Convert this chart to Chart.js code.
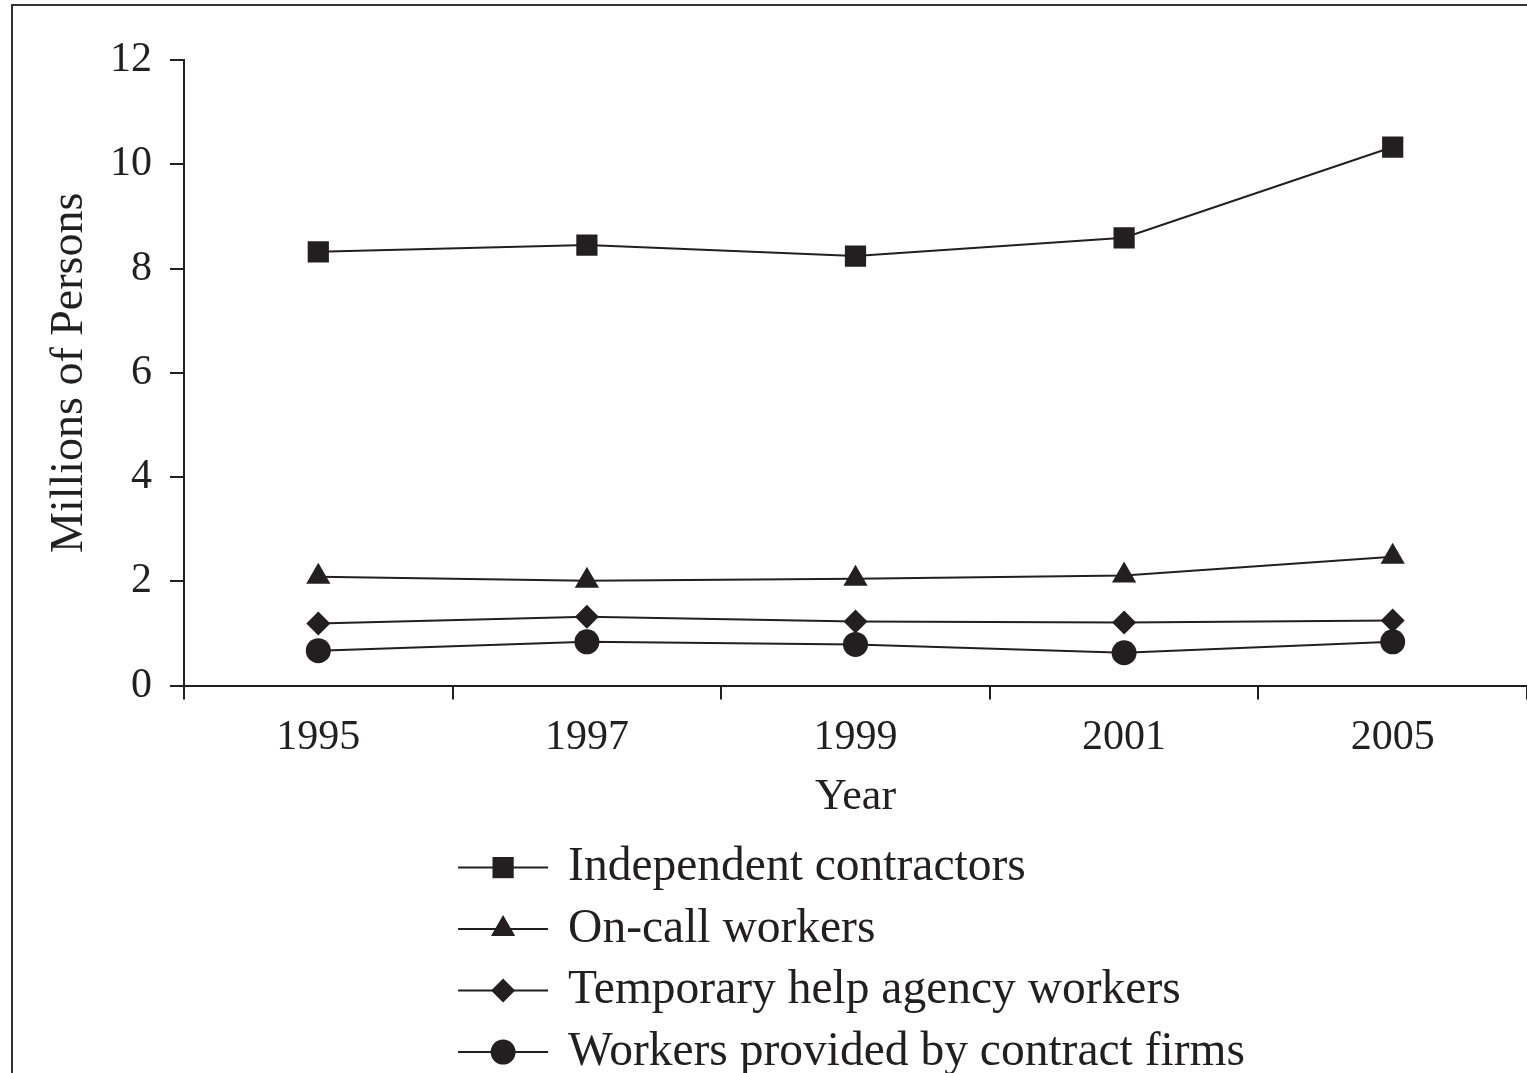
<!DOCTYPE html>
<html>
<head>
<meta charset="utf-8">
<script src="https://cdn.jsdelivr.net/npm/chart.js@4/dist/chart.umd.min.js"></script>
<style>
  html, body { margin: 0; padding: 0; background: #fff; }
  #wrap { position: relative; width: 1527px; height: 1073px; overflow: hidden; }
</style>
</head>
<body>
<div id="wrap"><canvas id="line-chart" width="1527" height="1073"></canvas></div>
<script>
// data (millions of persons)
const years = ["1995", "1997", "1999", "2001", "2005"];
const independentContractors = [8.32, 8.45, 8.24, 8.59, 10.33];
const onCallWorkers = [2.09, 2.01, 2.05, 2.11, 2.47];
const tempHelpWorkers = [1.19, 1.32, 1.23, 1.21, 1.25];
const contractFirmWorkers = [0.67, 0.84, 0.79, 0.63, 0.84];
const yTicks = [0, 2, 4, 6, 8, 10, 12];

const ink = "#231f20";
const serif = "'Liberation Serif', 'Times New Roman', serif";

function series(label, data, style, radius) {
  return {
    label: label,
    data: data,
    borderColor: ink,
    backgroundColor: ink,
    borderWidth: 2,
    tension: 0,
    fill: false,
    pointStyle: style,
    pointRadius: radius,
    pointBorderWidth: 0,
    pointBackgroundColor: ink,
  };
}

// frame + legend drawn on the canvas
const paperPlugin = {
  id: "paper",
  beforeDraw(chart) {
    const ctx = chart.ctx;
    ctx.save();
    ctx.fillStyle = "#fff";
    ctx.fillRect(0, 0, chart.width, chart.height);
    ctx.strokeStyle = "#333";
    ctx.lineWidth = 2;
    ctx.beginPath();
    ctx.moveTo(12, chart.height);
    ctx.lineTo(12, 5);
    ctx.lineTo(chart.width, 5);
    ctx.stroke();
    ctx.restore();
  },
  afterDraw(chart) {
    const ctx = chart.ctx;
    const area = chart.chartArea;
    ctx.save();
    ctx.font = "47.5px " + serif;
    const sets = chart.data.datasets;
    let maxW = 0;
    sets.forEach(ds => { maxW = Math.max(maxW, ctx.measureText(ds.label).width); });
    const lineLen = 90, gap = 20;
    const blockW = lineLen + gap + maxW;
    const x0 = (area.left + area.right) / 2 - blockW / 2 - 4;
    const y0 = area.bottom + 182;
    const step = 61.5;
    sets.forEach((ds, i) => {
      const y = y0 + i * step;
      ctx.strokeStyle = ink;
      ctx.lineWidth = 2;
      ctx.beginPath();
      ctx.moveTo(x0, y);
      ctx.lineTo(x0 + lineLen, y);
      ctx.stroke();
      ctx.fillStyle = ink;
      Chart.helpers.drawPoint(ctx, {
        pointStyle: ds.pointStyle,
        radius: ds.pointRadius,
        borderWidth: 0,
        rotation: 0,
      }, x0 + lineLen / 2, y);
      ctx.fillStyle = ink;
      ctx.textAlign = "left";
      ctx.textBaseline = "middle";
      ctx.fillText(ds.label, x0 + lineLen + gap, y);
    });
    ctx.restore();
  },
};

const config = {
  type: "line",
  data: {
    labels: years,
    datasets: [
      series("Independent contractors", independentContractors, "rect", 15),
      series("On-call workers", onCallWorkers, "triangle", 14),
      series("Temporary help agency workers", tempHelpWorkers, "rectRot", 12),
      series("Workers provided by contract firms", contractFirmWorkers, "circle", 12.5),
    ],
  },
  options: {
    responsive: false,
    animation: false,
    layout: {
      autoPadding: false,
      padding: { top: 60, left: 0, right: -2, bottom: 254 },
    },
    plugins: {
      legend: { display: false },
      tooltip: { enabled: false },
      title: { display: false },
    },
    scales: {
      x: {
        type: "category",
        offset: true,
        afterFit(scale) { scale.paddingLeft = 0; scale.paddingRight = 0; },
        ticks: {
          color: ink,
          padding: 13,
          maxRotation: 0,
          font: { family: serif, size: 42, lineHeight: 1.2 },
        },
        grid: {
          offset: true,
          drawOnChartArea: false,
          drawTicks: true,
          tickLength: 14,
          lineWidth: 2,
          color: ink,
        },
        border: { display: true, color: ink, width: 2 },
        title: {
          display: true,
          text: "Year",
          color: ink,
          padding: { top: -1, bottom: 0 },
          font: { family: serif, size: 44, lineHeight: 1.0 },
        },
      },
      y: {
        min: 0,
        max: 12,
        afterFit(scale) { scale.width = 184; },
        afterBuildTicks(scale) { scale.ticks = yTicks.map(v => ({ value: v })); },
        ticks: {
          color: ink,
          padding: 18,
          font: { family: serif, size: 42, lineHeight: 1.2 },
        },
        grid: {
          drawOnChartArea: false,
          drawTicks: true,
          tickLength: 14,
          lineWidth: 2,
          color: ink,
        },
        border: { display: true, color: ink, width: 2 },
        title: {
          display: true,
          text: "Millions of Persons",
          color: ink,
          padding: { top: 42, bottom: 0 },
          font: { family: serif, size: 46, lineHeight: 1.2 },
        },
      },
    },
  },
  plugins: [paperPlugin],
};

const ctx = document.getElementById("line-chart").getContext("2d");
new Chart(ctx, config);
</script>
</body>
</html>
